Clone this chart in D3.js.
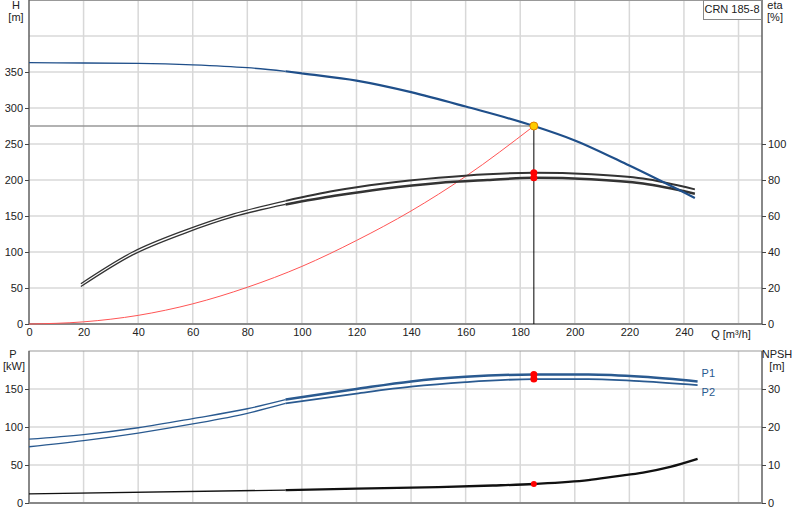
<!DOCTYPE html><html><head><meta charset="utf-8"><script src="https://cdn.jsdelivr.net/npm/d3@7"></script>
<style>body{margin:0;background:#fff}text{font-family:"Liberation Sans",Arial,sans-serif;font-size:11px;fill:#222}</style></head><body>
<svg id="c" width="800" height="520"></svg>
<script>
const qTicks=[0,20,40,60,80,100,120,140,160,180,200,220,240];
const hTicks=[0,50,100,150,200,250,300,350];
const etaTicks=[0,20,40,60,80,100];
const pTicks=[0,50,100,150];
const npshTicks=[0,10,20,30];
const hQ=[0,20,40,60,80,94,100,120,140,160,185,200,220,244];
const hV=[363,362.5,362,360,356,351,348,338,322,302,275,255,220,175];
const etaQ=[19,38,57,75,94,112,130,150,168,185,206,225,244];
const eta1=[22.4,40,52,61.2,68.4,74,78,81.2,83.2,84,83.2,80.8,74.8];
const eta2=[20.8,38.4,50.4,59.6,66.4,71.2,75.2,78.4,80,81.2,80.4,78,72.4];
const sysQ=[0,20,40,60,80,100,120,140,160,185];
const sysH=[0,3,12,28,51,80,116,157,205,275];
const pQ=[0,20,40,60,80,94,120,140,160,185,205,225,245];
const p1=[84,90,99,111,124,136,150,160,166,169,169,166,160];
const p2=[74,82,92,104,118,131,144,153,159,163,163,160,155];
const nQ=[0,94,120,150,170,185,205,215,225,235,245];
const npsh=[2.4,3.4,3.8,4.2,4.6,5,6,7,8,9.5,11.6];
const dutyQ=185,dutyH=275,dutyEta=[84,81.2],dutyP=[169,163],dutyN=5;
const opStart=94;

const svg=d3.select("#c");
const L=29,R=762;
const x=d3.scaleLinear().domain([0,268.6]).range([L,R]);
const yH=d3.scaleLinear().domain([0,450]).range([324,0]);
const yE=d3.scaleLinear().domain([0,100]).range([324,144]);
const yP=d3.scaleLinear().domain([0,200]).range([503,351]);
const yN=d3.scaleLinear().domain([0,40]).range([503,351]);
const grid="#d8d8d8";
function vgrid(t,b){qTicks.concat([260]).forEach(q=>{if(q>0)svg.append("line").attr("x1",x(q)).attr("x2",x(q)).attr("y1",t).attr("y2",b).attr("stroke",grid).attr("stroke-width",1.5);});}
// top grid
vgrid(0,324);
[50,100,150,200,250,300,350,400].forEach(h=>svg.append("line").attr("x1",L).attr("x2",R).attr("y1",yH(h)).attr("y2",yH(h)).attr("stroke",grid).attr("stroke-width",1.5));
vgrid(351,503);
[50,100,150].forEach(p=>svg.append("line").attr("x1",L).attr("x2",R).attr("y1",yP(p)).attr("y2",yP(p)).attr("stroke",grid).attr("stroke-width",1.5));
// frames
svg.append("rect").attr("x",L).attr("y",0.5).attr("width",R-L).attr("height",323.5).attr("fill","none").attr("stroke","#999");
svg.append("rect").attr("x",L).attr("y",351).attr("width",R-L).attr("height",152).attr("fill","none").attr("stroke","#999");
svg.append("line").attr("x1",L).attr("x2",R).attr("y1",324).attr("y2",324).attr("stroke","#888").attr("stroke-width",2);
svg.append("line").attr("x1",L).attr("x2",L).attr("y1",0).attr("y2",324).attr("stroke","#444");
svg.append("line").attr("x1",R).attr("x2",R).attr("y1",0).attr("y2",324).attr("stroke","#444");
svg.append("line").attr("x1",L).attr("x2",L).attr("y1",351).attr("y2",503).attr("stroke","#444");
svg.append("line").attr("x1",R).attr("x2",R).attr("y1",351).attr("y2",503).attr("stroke","#444");
svg.append("line").attr("x1",L).attr("x2",R).attr("y1",503).attr("y2",503).attr("stroke","#888").attr("stroke-width",2);
// axes
const ax=(g,t)=>{g.select(".domain").remove();g.selectAll("line").attr("stroke","#444");};
svg.append("g").attr("transform","translate(0,324)").call(d3.axisBottom(x).tickValues(qTicks).tickSize(0).tickPadding(4)).call(ax).selectAll("text").style("font-size","11px");
svg.append("g").attr("transform",`translate(${L},0)`).call(d3.axisLeft(yH).tickValues(hTicks).tickSize(4).tickPadding(2)).call(ax);
svg.append("g").attr("transform",`translate(${R},0)`).call(d3.axisRight(yE).tickValues(etaTicks).tickSize(4).tickPadding(2)).call(ax);
svg.append("g").attr("transform",`translate(${L},0)`).call(d3.axisLeft(yP).tickValues(pTicks).tickSize(4).tickPadding(2)).call(ax);
svg.append("g").attr("transform",`translate(${R},0)`).call(d3.axisRight(yN).tickValues(npshTicks).tickSize(4).tickPadding(2)).call(ax);
svg.selectAll(".tick text").style("font-family","Liberation Sans, Arial").style("font-size","11px").attr("fill","#222");
// titles
const T=(s,xx,yy,a)=>svg.append("text").attr("x",xx).attr("y",yy).attr("text-anchor",a||"middle").text(s);
T("H",16,9);T("[m]",16,21);T("eta",775,9);T("[%]",775,21);
T("P",13,358);T("[kW]",14,370);T("NPSH",777,358);T("[m]",777,370);
T("Q [m³/h]",731,338);
svg.append("rect").attr("x",703.5).attr("y",0.5).attr("width",58).attr("height",19).attr("fill","#fff").attr("stroke","#888");
T("CRN 185-8",732,13);
// lines
function draw(xs,ys,sx,sy,col,thin,thick){
  const pts=xs.map((q,i)=>[q,ys[i]]);
  const ln=d3.line().x(d=>sx(d[0])).y(d=>sy(d[1])).curve(d3.curveMonotoneX);
  const a=pts.filter(d=>d[0]<=opStart), b=pts.filter(d=>d[0]>=opStart);
  svg.append("path").attr("d",ln(a)).attr("fill","none").attr("stroke",col).attr("stroke-width",thin);
  svg.append("path").attr("d",ln(b)).attr("fill","none").attr("stroke",col).attr("stroke-width",thick);
}
svg.append("line").attr("x1",L).attr("x2",x(dutyQ)).attr("y1",yH(dutyH)).attr("y2",yH(dutyH)).attr("stroke","#999").attr("stroke-width",1.5);
svg.append("line").attr("x1",x(dutyQ)).attr("x2",x(dutyQ)).attr("y1",yH(dutyH)).attr("y2",324).attr("stroke","#000");
svg.append("path").attr("d",d3.line().x((d,i)=>x(sysQ[i])).y(d=>yH(d)).curve(d3.curveMonotoneX)(sysH)).attr("fill","none").attr("stroke","#f55").attr("stroke-width",1);
draw(etaQ,eta1,x,yE,"#333",1.3,2);
draw(etaQ,eta2,x,yE,"#333",1.3,2.5);
draw(hQ,hV,x,yH,"#1f4f8a",1.3,2.2);
draw(pQ,p1,x,yP,"#2a5a90",1.3,2.5);
draw(pQ,p2,x,yP,"#2a5a90",1.3,1.8);
draw(nQ,npsh,x,yN,"#111",1.3,2.3);
dutyEta.forEach(e=>svg.append("circle").attr("cx",x(dutyQ)).attr("cy",yE(e)).attr("r",3.5).attr("fill","#f00"));
dutyP.forEach(e=>svg.append("circle").attr("cx",x(dutyQ)).attr("cy",yP(e)).attr("r",3.5).attr("fill","#f00"));
svg.append("circle").attr("cx",x(dutyQ)).attr("cy",yN(dutyN)).attr("r",3).attr("fill","#f00");
svg.append("circle").attr("cx",x(dutyQ)).attr("cy",yH(dutyH)).attr("r",4).attr("fill","#fc0").attr("stroke","#e08000");
svg.append("text").attr("x",x(245)+4).attr("y",yP(p1[p1.length-1])-4).text("P1").attr("fill","#2a5a90").style("fill","#2a5a90");
svg.append("text").attr("x",x(245)+4).attr("y",yP(p2[p2.length-1])+11).text("P2").style("fill","#2a5a90");
</script></body></html>
